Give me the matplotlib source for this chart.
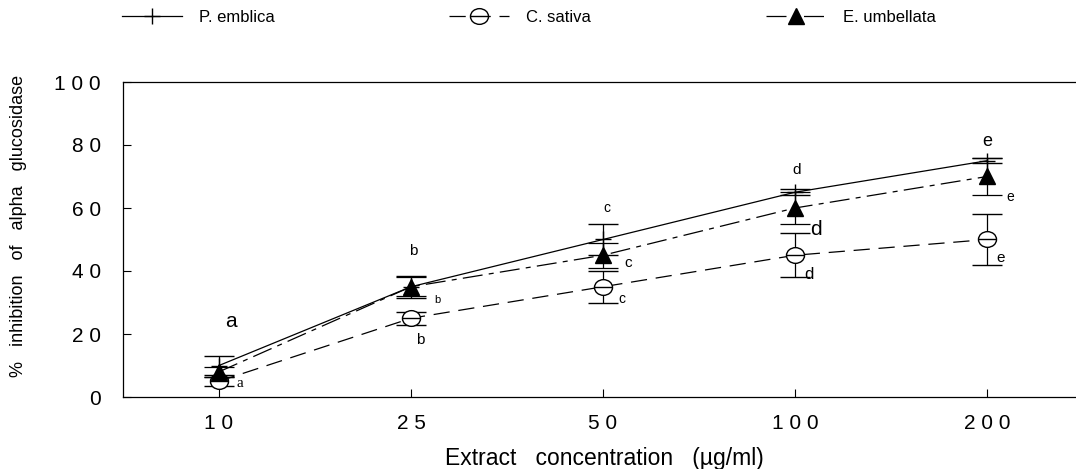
import matplotlib
matplotlib.use("Agg")
import matplotlib.pyplot as plt
from matplotlib.path import Path
import numpy as np

plt.rcParams['font.family'] = ['Liberation Sans', 'DejaVu Sans']

# ---- data ----
concentrations = ["1 0", "2 5", "5 0", "1 0 0", "2 0 0"]
y_tick_labels = ["0", "2 0", "4 0", "6 0", "8 0", "1 0 0"]
y_ticks = [0, 20, 40, 60, 80, 100]

emblica = [10, 35, 50, 65, 75]
emblica_err = [3, 3.5, 5, 1, 0.8]

sativa = [5, 25, 35, 45, 50]
sativa_err = [1.5, 2, 5, 7, 8]

umbellata = [8, 35, 45, 60, 70]
umbellata_err = [1.5, 3, 4, 5, 6]

# significance letters (letter, x index, y value)
letters = [
    ("a", 0.06, 24.1), ("a", 0.11, 4.3),
    ("b", 1.01, 46.5), ("b", 1.14, 30.8), ("b", 1.05, 18.1),
    ("c", 2.02, 60.0), ("c", 2.13, 42.5), ("c", 2.10, 31.2),
    ("d", 3.01, 72.2), ("d", 3.11, 53.3), ("d", 3.07, 39.0),
    ("e", 4.00, 81.0), ("e", 4.12, 63.5), ("e", 4.07, 44.1),
]
letter_sizes = [15, 11, 11, 8, 11, 10, 11, 10, 11, 15, 12, 13, 10, 11]
letter_fonts = ['sans'] + ['serif'] + ['sans'] * 12

x = np.arange(len(concentrations))

fig = plt.figure(figsize=(10.76, 4.69), dpi=100)
ax = fig.add_axes([123 / 1076, 72 / 469, (1083 - 123) / 1076, 315 / 469])

# theta marker: ellipse with horizontal bar
circ = Path.unit_circle()
verts = np.concatenate([circ.vertices * [1.15, 1.0], [[-1.15, 0], [1.15, 0]]])
codes = np.concatenate([circ.codes, [Path.MOVETO, Path.LINETO]])
theta = Path(verts, codes)

lw = 0.9
l1 = ax.errorbar(x, emblica, yerr=emblica_err, color='black', lw=lw,
                 marker='+', ms=11, mew=1.0, capsize=11, elinewidth=lw,
                 capthick=lw, label='P. emblica', zorder=3)
l2 = ax.errorbar(x, sativa, yerr=sativa_err, color='black', lw=lw,
                 marker=theta, ms=13, mfc='white', mec='black', mew=1.0,
                 capsize=11, elinewidth=lw, capthick=lw, label='C. sativa',
                 zorder=3)
l2[0].set_dashes([13, 7])
l3 = ax.errorbar(x, umbellata, yerr=umbellata_err, color='black', lw=lw,
                 marker='^', ms=11, mfc='black', mec='black',
                 capsize=11, elinewidth=lw, capthick=lw, label='E. umbellata',
                 zorder=4)
l3[0].set_dashes([16, 5, 4, 5])

for (t, xi, yi), fs, ff in zip(letters, letter_sizes, letter_fonts):
    fam = ['Liberation Serif'] if ff == 'serif' else ['Liberation Sans']
    ax.text(xi, yi, t, fontsize=fs, ha='center', va='center', family=fam)

ax.set_xlim(-0.5, 4.5)
ax.set_ylim(0, 100)
ax.set_xticks(x)
ax.set_xticklabels(concentrations)
ax.set_yticks(y_ticks)
ax.set_yticklabels(y_tick_labels)
ax.tick_params(axis='y', direction='in', length=6, width=0.8, labelsize=15, pad=16)
ax.tick_params(axis='x', direction='in', length=6, width=0.8, labelsize=15, pad=12)
ax.spines['right'].set_visible(False)
for s in ['left', 'bottom', 'top']:
    ax.spines[s].set_linewidth(0.9)

ax.set_xlabel("Extract   concentration   (µg/ml)", fontsize=16.5)
ax.xaxis.set_label_coords(0.501, -0.16)
ax.set_ylabel("%   inhibition   of   alpha   glucosidase", fontsize=13)
ax.yaxis.set_label_coords(-0.100, 0.543)

fig.legend(handles=[l1[0], l2[0], l3[0]],
           labels=['P. emblica', 'C. sativa', 'E. umbellata'],
           loc='center left', bbox_to_anchor=(122 / 1076, 1 - 17 / 469),
           ncol=3, frameon=False, fontsize=12, handlelength=3.6,
           handletextpad=1.0, columnspacing=10.5, borderaxespad=0, borderpad=0)

fig.savefig("out.png", dpi=100)
